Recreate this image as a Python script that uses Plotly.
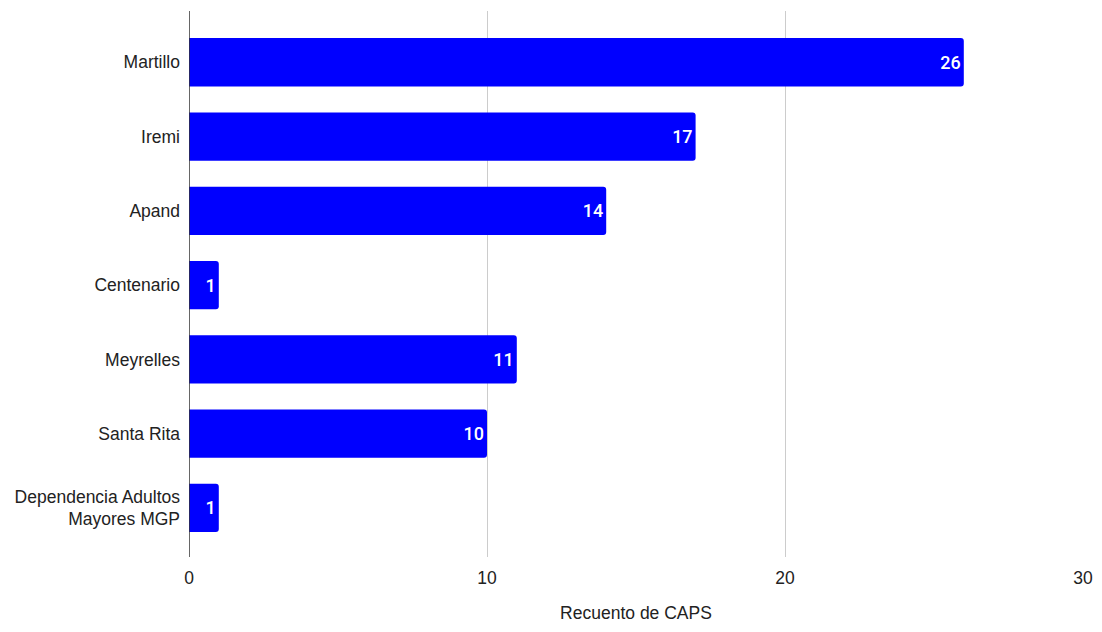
import plotly.graph_objects as go

categories = ["Martillo", "Iremi", "Apand", "Centenario", "Meyrelles", "Santa Rita",
              "Dependencia Adultos<br>Mayores MGP"]
values = [26, 17, 14, 1, 11, 10, 1]
x_ticks = [0, 10, 20, 30]

positions = list(range(len(categories)))

fig = go.Figure(go.Bar(
    x=values, y=positions, orientation="h",
    marker=dict(color="#0000FF", line=dict(width=0), cornerradius=3),
    width=0.65,
    text=[str(v) for v in values], textposition="inside", insidetextanchor="end",
    textfont=dict(family="Roboto", size=18, color="white", weight=500),
    textangle=0,
    cliponaxis=False,
))

fig.update_layout(
    width=1102, height=632,
    margin=dict(l=189, r=19, t=11, b=75, autoexpand=False),
    paper_bgcolor="white", plot_bgcolor="white",
    font=dict(family="Liberation Sans, Arial", size=17.5, color="#222"),
    uniformtext=dict(minsize=18, mode="show"),
    showlegend=False,
    xaxis=dict(range=[0, 30], tickvals=x_ticks, ticktext=[str(t) for t in x_ticks],
               showgrid=True, gridcolor="#cccccc", gridwidth=1, automargin=False,
               zeroline=False, showline=False, ticks="", ticklabelstandoff=8,
               title=dict(text="Recuento de CAPS", standoff=20, font=dict(size=17.5, color="#222"))),
    yaxis=dict(range=[6.66, -0.69], tickvals=positions, ticktext=categories,
               showgrid=False, zeroline=False, showline=False, ticks="",
               automargin=False, ticklabelstandoff=8),
    shapes=[dict(type="line", xref="x", yref="paper", x0=0, x1=0, y0=0, y1=1,
                 line=dict(color="#333333", width=1.5))],
)

fig.write_html("out.html")
